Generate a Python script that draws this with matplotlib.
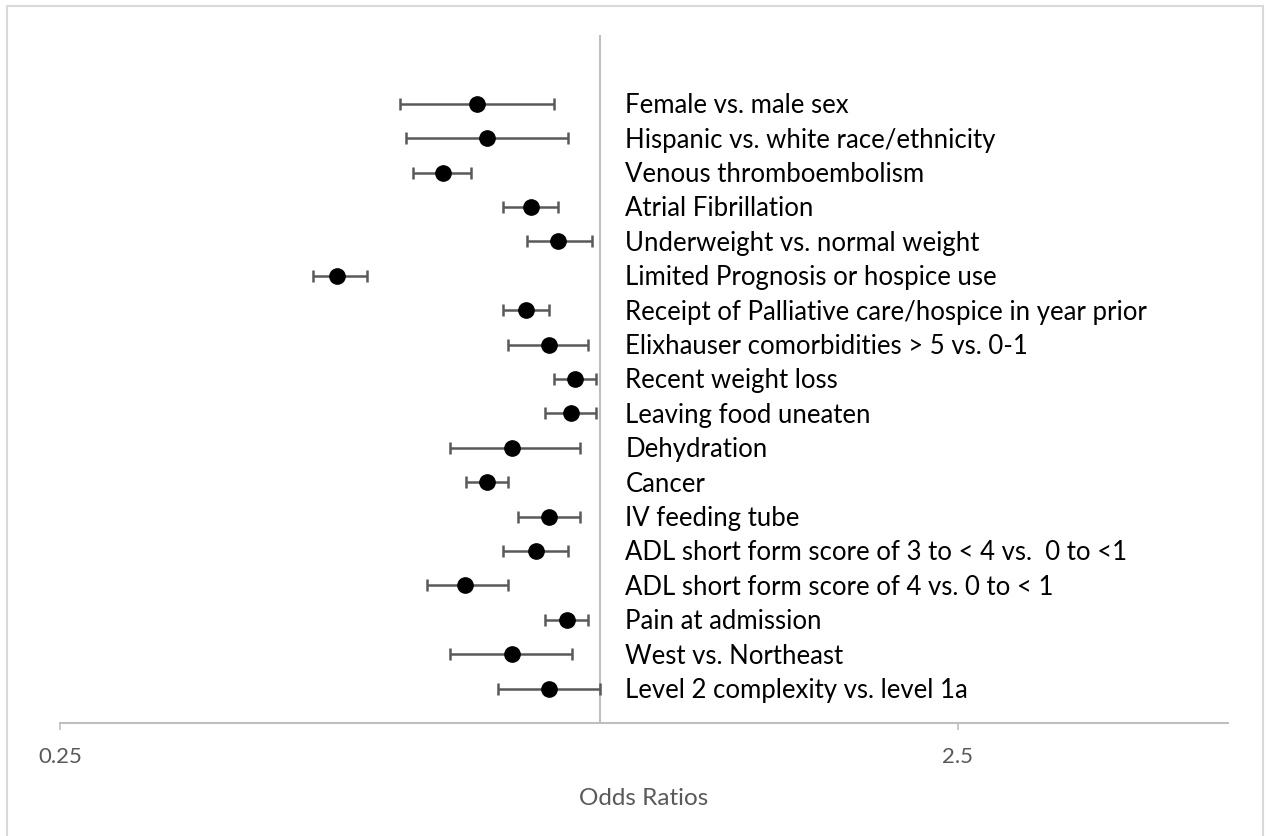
import matplotlib
matplotlib.use("Agg")
import matplotlib.pyplot as plt
from matplotlib.patches import Rectangle

labels = [
    "Female vs. male sex",
    "Hispanic vs. white race/ethnicity",
    "Venous thromboembolism",
    "Atrial Fibrillation",
    "Underweight vs. normal weight",
    "Limited Prognosis or hospice use",
    "Receipt of Palliative care/hospice in year prior",
    "Elixhauser comorbidities > 5 vs. 0-1",
    "Recent weight loss",
    "Leaving food uneaten",
    "Dehydration",
    "Cancer",
    "IV feeding tube",
    "ADL short form score of 3 to < 4 vs.  0 to <1",
    "ADL short form score of 4 vs. 0 to < 1",
    "Pain at admission",
    "West vs. Northeast",
    "Level 2 complexity vs. level 1a",
]
odds = [0.728, 0.747, 0.668, 0.836, 0.897, 0.509, 0.826, 0.877, 0.936, 0.927,
        0.797, 0.747, 0.877, 0.847, 0.706, 0.917, 0.797, 0.877]
ci_low = [0.598, 0.608, 0.618, 0.778, 0.828, 0.478, 0.778, 0.788, 0.887, 0.868,
          0.679, 0.708, 0.809, 0.778, 0.641, 0.868, 0.679, 0.768]
ci_high = [0.888, 0.920, 0.717, 0.896, 0.978, 0.549, 0.877, 0.968, 0.988, 0.988,
           0.948, 0.788, 0.948, 0.920, 0.788, 0.968, 0.929, 0.999]
xticks = [0.25, 2.5]
xticklabels = ["0.25", "2.5"]
ref_value = 1.0

fig = plt.figure(figsize=(12.69, 8.37), dpi=100)
fig.patches.append(Rectangle((7 / 1269, -0.01), (1263 - 7) / 1269, 1 - 7 / 837 + 0.01,
                             transform=fig.transFigure, fill=False,
                             edgecolor="#d9d9d9", linewidth=1.5))
ax = fig.add_axes([60 / 1269, 113 / 837, (1228 - 60) / 1269, (724 - 36) / 837])

n = len(labels)
ys = [n - i for i in range(n)]
xerr = [[o - l for o, l in zip(odds, ci_low)], [h - o for o, h in zip(odds, ci_high)]]

ax.errorbar(odds, ys, xerr=xerr, fmt="o", color="black", ecolor="#595959",
            elinewidth=1.8, capsize=4, capthick=1.8, markersize=11, zorder=3)
ax.plot([ref_value, ref_value], [0, n + 2], color="#bfbfbf", linewidth=1.5, zorder=1)

for y, lab in zip(ys, labels):
    ax.annotate(lab, xy=(ref_value, y), xytext=(25, -1), textcoords="offset pixels",
                ha="left", va="center", fontsize=18.5, family="Lato", color="black")

ax.set_xscale("log")
ax.set_xlim(0.25, 5)
ax.set_ylim(0, n + 2)
ax.set_xticks(xticks)
ax.set_xticklabels(xticklabels)
ax.xaxis.set_minor_locator(matplotlib.ticker.NullLocator())
ax.set_yticks([])
for s in ["top", "right", "left"]:
    ax.spines[s].set_visible(False)
ax.spines["bottom"].set_color("#bfbfbf")
ax.spines["bottom"].set_linewidth(1.5)
ax.tick_params(axis="x", colors="#bfbfbf", length=5, width=1.2, pad=11.5,
               labelcolor="#595959", labelsize=16)
for t in ax.get_xticklabels():
    t.set_family("Lato")
ax.set_xlabel("Odds Ratios", color="#595959", fontsize=17.5, family="Lato", labelpad=15)
ax.set_facecolor("none")

fig.savefig("out.png", dpi=100, facecolor="white")
